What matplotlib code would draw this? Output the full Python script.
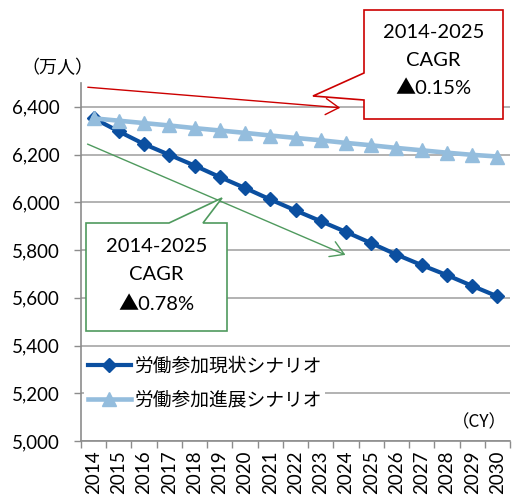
import matplotlib
matplotlib.use("Agg")
import matplotlib.pyplot as plt
from matplotlib.patches import Polygon
import numpy as np

years = [str(y) for y in range(2014, 2031)]
current = [6352, 6297, 6244, 6199, 6154, 6106, 6060, 6012, 5966, 5921, 5876, 5829, 5781, 5737, 5695, 5650, 5606]
progress = [6352, 6342, 6332, 6322, 6311, 6301, 6291, 6280, 6270, 6260, 6249, 6239, 6228, 6218, 6208, 6199, 6192]
series_names = ["労働参加現状シナリオ", "労働参加進展シナリオ"]
yticks = [5000, 5200, 5400, 5600, 5800, 6000, 6200, 6400]
callout_red = ["2014-2025", "CAGR", "▲0.15%"]
callout_green = ["2014-2025", "CAGR", "▲0.78%"]

W, H = 528, 498
LAT = ["Lato", "Noto Sans CJK JP", "DejaVu Sans"]
JP = ["Noto Sans CJK JP", "DejaVu Sans"]

DARK = "#0B4FA0"
LIGHT = "#94BDDD"
RED = "#CC0000"
GREEN = "#4F9A5E"
GRID = "#A6A6A6"

fig = plt.figure(figsize=(W / 100, H / 100), dpi=100)
ax = fig.add_axes([81 / W, 1 - 441 / H, (510 - 81) / W, (441 - 83) / H])

x = np.arange(len(years))
ax.plot(x, current, color=DARK, lw=3.0, marker="D", markersize=6.8, label=series_names[0], zorder=3)
ax.plot(x, progress, color=LIGHT, lw=3.3, marker="^", markersize=10, label=series_names[1], zorder=4)

ax.set_xlim(-0.5, len(years) - 0.5)
ax.set_ylim(5000, 6500)
ax.set_yticks(yticks)
ax.set_yticklabels([f"{v:,}" for v in yticks], family=LAT, fontsize=13.5)
ax.yaxis.grid(True, color=GRID, lw=1.2)
ax.set_axisbelow(True)

ax.set_xticks(x)
ax.set_xticklabels(years, rotation=90, family=LAT, fontsize=13.5)
ax.set_xticks(np.arange(-0.5, len(years), 1), minor=True)
ax.tick_params(axis="x", which="major", length=0, pad=7)
ax.tick_params(axis="x", which="minor", length=5, color="#8C8C8C", width=1)
ax.tick_params(axis="y", length=5, color="#8C8C8C", width=1, pad=10)

for s in ["top", "right"]:
    ax.spines[s].set_visible(False)
for s in ["left", "bottom"]:
    ax.spines[s].set_color("#8C8C8C")
    ax.spines[s].set_linewidth(1.2)

leg = ax.legend(loc="upper left", bbox_to_anchor=((84 - 81) / (510 - 81), (441 - 352) / (441 - 83)),
                prop={"family": JP, "size": 13.5}, frameon=True, fancybox=False,
                edgecolor="none", facecolor="white", framealpha=1,
                handlelength=2.3, handletextpad=0.15, labelspacing=0.68,
                borderpad=0.2, borderaxespad=0)

def fx(px):
    return px / W

def fy(py):
    return 1 - py / H

# axis unit labels
fig.text(fx(21), fy(68), "（万人）", family=JP, fontsize=13, ha="left", va="center")
fig.text(fx(507), fy(422), "（CY）", family=JP, fontsize=12.5, ha="right", va="center")

# arrows
fig.patches.append(matplotlib.patches.FancyArrowPatch(
    (fx(85), fy(87)), (fx(343), fy(108)), transform=fig.transFigure,
    arrowstyle="->,head_length=0.95,head_width=0.58", mutation_scale=10,
    color=RED, lw=1.0, zorder=5))
fig.patches.append(matplotlib.patches.FancyArrowPatch(
    (fx(85), fy(143)), (fx(348), fy(256)), transform=fig.transFigure,
    arrowstyle="->,head_length=0.95,head_width=0.58", mutation_scale=10,
    color=GREEN, lw=1.0, zorder=5))

# callouts
red_pts = [(364, 10), (503, 10), (503, 119), (364, 119), (364, 100), (313, 96), (364, 73)]
green_pts = [(86, 223), (169, 223), (222, 198), (203, 223), (227, 223), (227, 331), (86, 331)]
for pts, col in [(red_pts, RED), (green_pts, GREEN)]:
    poly = Polygon([(fx(a), fy(b)) for a, b in pts], closed=True, transform=fig.transFigure,
                   facecolor="white", edgecolor=col, lw=1.2, zorder=6)
    fig.patches.append(poly)

for lines, cx, ys in [(callout_red, 433.5, [32, 61, 89]), (callout_green, 156.5, [247, 275, 304])]:
    for t, yy in zip(lines, ys):
        fig.text(fx(cx), fy(yy), t, family=LAT, fontsize=14.5, ha="center", va="center", zorder=7)

fig.savefig("out.png", dpi=100)
